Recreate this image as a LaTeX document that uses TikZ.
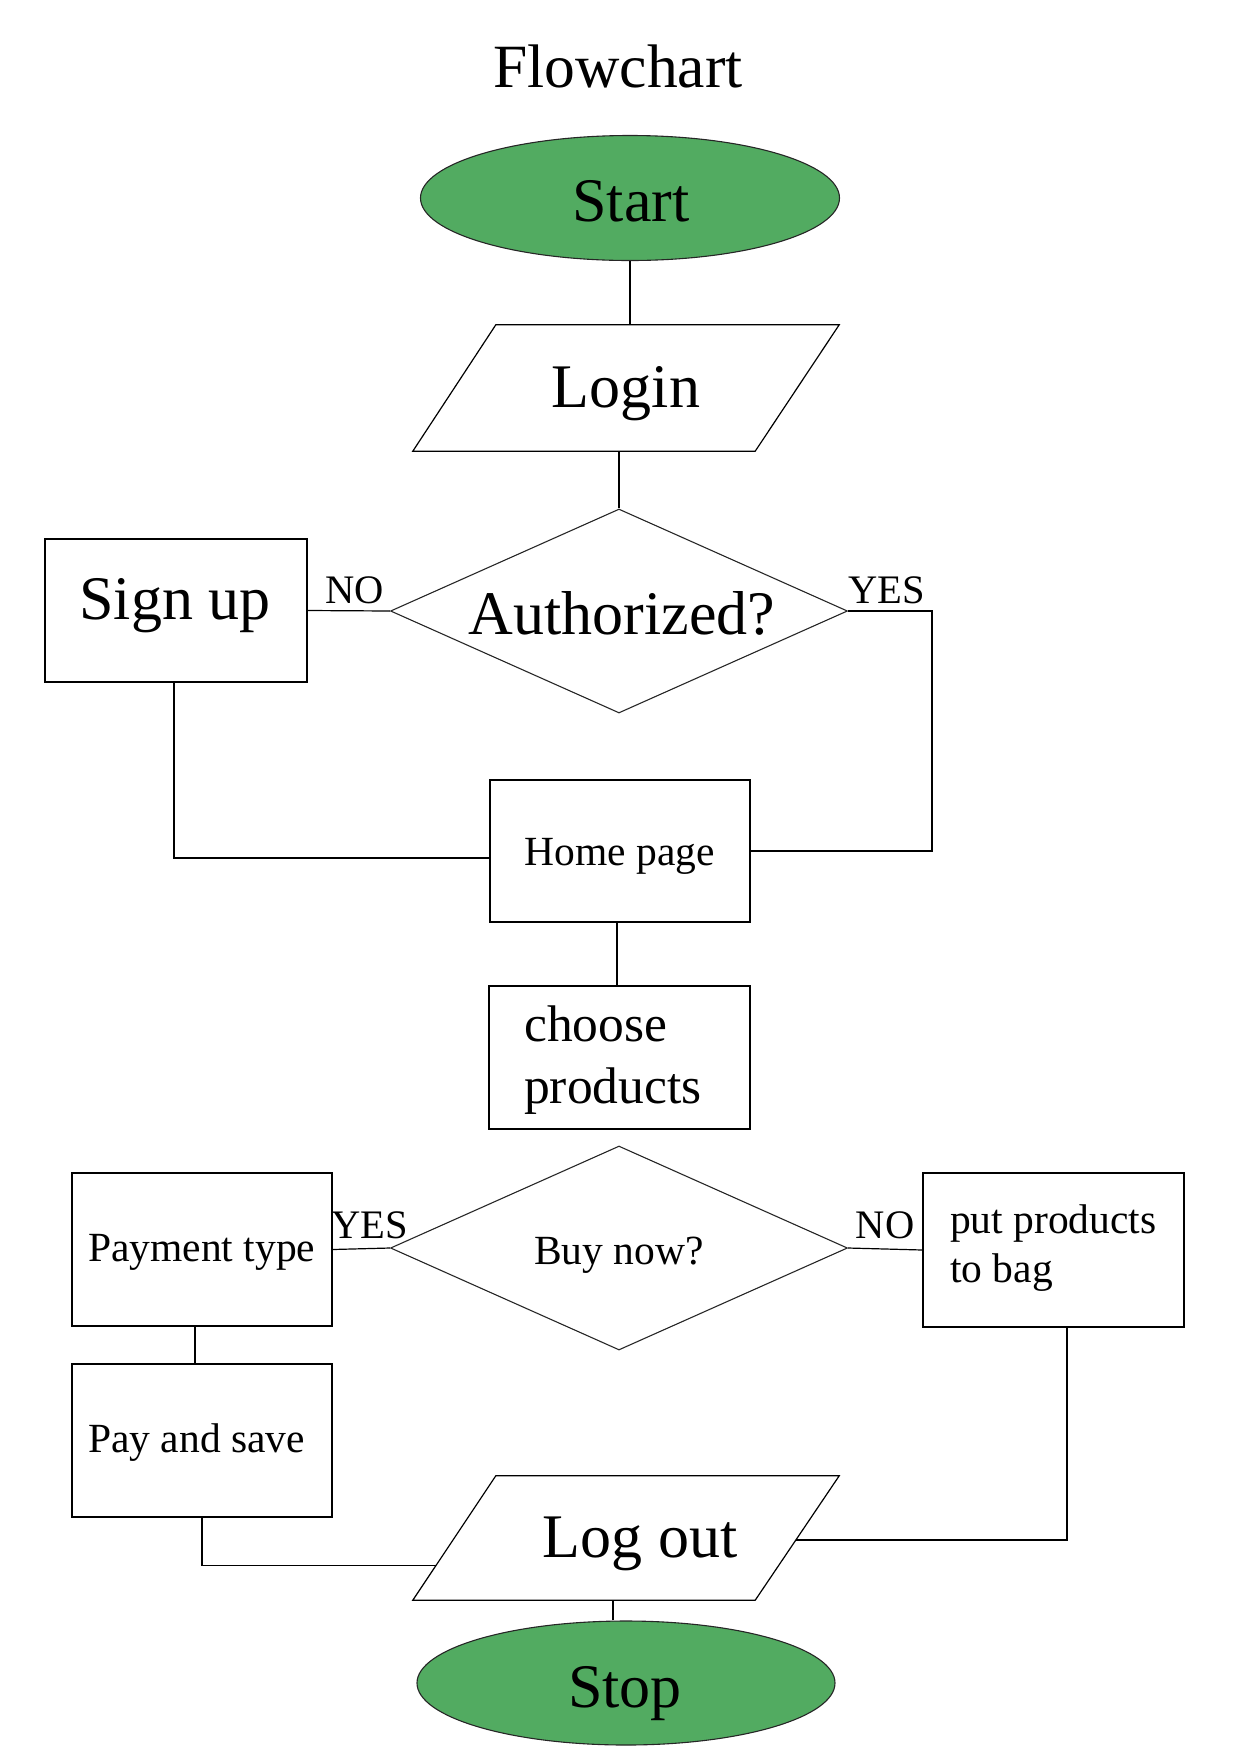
\documentclass[tikz,border=0pt]{standalone}
\usepackage{fontspec}
\setmainfont{Liberation Serif}
\usetikzlibrary{shapes.geometric,calc}
\definecolor{termgreen}{RGB}{82,171,97}
\begin{document}
\begin{tikzpicture}[x=1pt,y=-1pt,
  line/.style={draw=black,line width=1.2pt},
  box/.style={rectangle,draw=black,line width=1.2pt,inner sep=0pt},
  term/.style={ellipse,draw=black!85,line width=1.1pt,fill=termgreen,inner sep=0pt},
  decision/.style={diamond,draw=black!85,line width=1.1pt,inner sep=0pt},
  frame/.style={inner sep=0pt},
  bigtxt/.style={font=\fontsize{62}{74}\selectfont,anchor=base,inner sep=0pt},
  midtxt/.style={font=\fontsize{51.5}{62}\selectfont,anchor=base west,inner sep=0pt},
  smalltxt/.style={font=\fontsize{41.5}{49}\selectfont,anchor=base,inner sep=0pt},
  lefttxt/.style={font=\fontsize{41.5}{49}\selectfont,anchor=base west,inner sep=0pt},
  lbl/.style={font=\fontsize{40.5}{48}\selectfont,anchor=base,inner sep=0pt}
]
\useasboundingbox (0,0) rectangle (1240,1754);

% title
\node[font=\fontsize{61.5}{72}\selectfont,anchor=base,inner sep=0pt] (title) at (618,87) {Flowchart};

% shapes
\node[term,minimum width=419,minimum height=125] (start) at (630,198) {};
\node[frame,minimum width=426,minimum height=126] (login) at (626,388) {};
\draw[line] ([xshift=83pt]login.north west) -- (login.north east) -- ([xshift=-84pt]login.south east) -- (login.south west) -- cycle;
\node[decision,minimum width=457,minimum height=204] (auth) at (619,611) {};
\node[box,minimum width=262,minimum height=143] (signup) at (176,610.5) {};
\node[box,minimum width=260,minimum height=142] (home) at (620,851) {};
\node[box,minimum width=261,minimum height=143] (choose) at (619.5,1057.5) {};
\node[decision,minimum width=457,minimum height=204] (buy) at (619,1248) {};
\node[box,minimum width=260,minimum height=153] (pay) at (202,1249.5) {};
\node[box,minimum width=261,minimum height=154] (put) at (1053.5,1250) {};
\node[box,minimum width=260,minimum height=153] (save) at (202,1440.5) {};
\node[frame,minimum width=426,minimum height=124] (logout) at (626,1538) {};
\coordinate (loTL) at ([xshift=83pt]logout.north west);
\coordinate (loTR) at (logout.north east);
\coordinate (loBR) at ([xshift=-84pt]logout.south east);
\coordinate (loBL) at (logout.south west);
\draw[line] (loTL) -- (loTR) -- (loBR) -- (loBL) -- cycle;
\node[term,minimum width=418,minimum height=124] (stop) at (626,1683) {};

% texts
\node[bigtxt] (startT) at (631,221) {Start};
\node[bigtxt] (loginT) at (626,407) {Login};
\node[bigtxt] (signupT) at (175,619) {Sign up};
\node[bigtxt] (authT) at (622,634) {Authorized?};
\node[lbl] (noA) at (355,603) {NO};
\node[lbl] (yesA) at (887,603) {YES};
\node[smalltxt] (homeT) at (620,865) {Home page};
\node[midtxt] (chooseA) at (524,1041) {choose};
\node[midtxt] (chooseB) at (524,1103) {products};
\node[smalltxt] (buyT) at (619,1264) {Buy now?};
\node[lbl] (yesB) at (370,1238) {YES};
\node[lbl] (noB) at (885,1238) {NO};
\node[lefttxt] (payT) at (88,1261) {Payment type};
\node[lefttxt] (putA) at (950,1233) {put products};
\node[lefttxt] (putB) at (950,1282) {to bag};
\node[lefttxt] (saveT) at (88,1452) {Pay and save};
\node[bigtxt] (logoutT) at (640,1557) {Log out};
\node[bigtxt] (stopT) at (625,1707) {Stop};

% connectors
\draw[line] (start.south) -- (start.south |- login.north);
\draw[line] (auth.north |- login.south) -- (auth.north);
\draw[line] (signup.east) -- (auth.west);
\draw[line] (auth.east) -- ++(84,0) |- (home.east);
\draw[line] ([xshift=-2pt]signup.south) |- ([yshift=-7pt]home.west);
\draw[line] ([xshift=-3pt]home.south) -- ([xshift=-3pt]home.south |- choose.north);
\draw[line] (pay.east) -- (buy.west);
\draw[line] (buy.east) -- (put.west);
\draw[line] ([xshift=-7pt]pay.south) -- ([xshift=-7pt]pay.south |- save.north);
\coordinate (loL) at ($(loTL)!0.72!(loBL)$);
\draw[line] (save.south) |- (loL);
\coordinate (loR) at ($(loTR)!0.516!(loBR)$);
\draw[line] ([xshift=13.5pt]put.south) |- (loR);
\draw[line] ([xshift=-13pt]stop.north) -- ([xshift=-13pt]stop.north |- logout.south);
\end{tikzpicture}
\end{document}
